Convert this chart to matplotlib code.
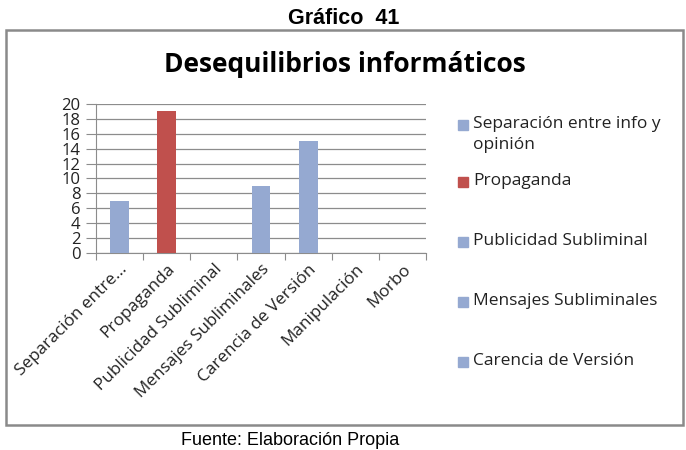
import matplotlib
matplotlib.use("Agg")
import matplotlib.pyplot as plt
from matplotlib.patches import Rectangle

categories = ["Separación entre...", "Propaganda", "Publicidad Subliminal",
              "Mensajes Subliminales", "Carencia de Versión", "Manipulación", "Morbo"]
values = [7, 19, 0, 9, 15, 0, 0]
legend_labels = ["Separación entre info y\nopinión", "Propaganda", "Publicidad Subliminal",
                 "Mensajes Subliminales", "Carencia de Versión"]
yticks = list(range(0, 21, 2))

BLUE = "#95a9d1"
RED = "#c0504d"
colors = [RED if c == "Propaganda" else BLUE for c in categories]
FONT = ["Open Sans", "DejaVu Sans"]

W, H = 686, 450
fig = plt.figure(figsize=(W / 100, H / 100), dpi=100)

# outer frame
fig.patches.append(Rectangle((6 / W, 1 - 425 / H), 677 / W, 395 / H, transform=fig.transFigure,
                             fill=False, edgecolor="#8a8a8a", lw=1.8))
fig.text(344 / W, 1 - 18 / H, "Gráfico  41", ha="center", va="center",
         fontsize=15.5, fontweight="bold", family="Liberation Sans")
fig.text(290 / W, 1 - 449 / H, "Fuente: Elaboración Propia", ha="center", va="bottom",
         fontsize=13, family="Liberation Sans")
fig.text(345 / W, 1 - 64 / H, "Desequilibrios informáticos", ha="center", va="center",
         fontsize=19, fontweight="bold", family=FONT)

ax = fig.add_axes([96 / W, 1 - 253 / H, 330 / W, 149 / H])
x = list(range(len(categories)))
ax.bar(x, values, width=0.4, color=colors, zorder=3)
ax.set_xlim(-0.5, len(categories) - 0.5)
ax.set_ylim(0, 20)
ax.set_yticks(yticks)
ax.set_yticklabels([str(v) for v in yticks], family=FONT, fontsize=12)
ax.yaxis.grid(True, color="#8c8c8c", lw=0.9, zorder=0)
for s in ["top", "right"]:
    ax.spines[s].set_visible(False)
for s in ["left", "bottom"]:
    ax.spines[s].set_color("#8c8c8c")
ax.tick_params(axis="y", length=7, color="#8c8c8c", pad=4, labelcolor="#222")
ax.set_xticks([i - 0.5 for i in range(len(categories) + 1)], minor=False)
ax.set_xticklabels([])
ax.tick_params(axis="x", length=5, color="#8c8c8c")
ax.set_xticks(x, minor=True)
ax.set_xticklabels(categories, minor=True, rotation=45, ha="right", rotation_mode="anchor",
                   family=FONT, fontsize=12.3)
ax.tick_params(axis="x", which="minor", length=0, pad=6, labelcolor="#222")

# legend drawn entry by entry (Excel-style spacing)
leg_y = [125, 182, 242, 302, 362]
for lab, col, y in zip(legend_labels, colors, leg_y):
    fig.patches.append(Rectangle((458 / W, 1 - (y + 5) / H), 10 / W, 10 / H,
                                 transform=fig.transFigure, color=col))
    fig.text(473 / W, 1 - (y - 9) / H, lab, ha="left", va="top", family=FONT,
             fontsize=12.5, color="#222", linespacing=1.4)

fig.savefig("out.png", dpi=100)
